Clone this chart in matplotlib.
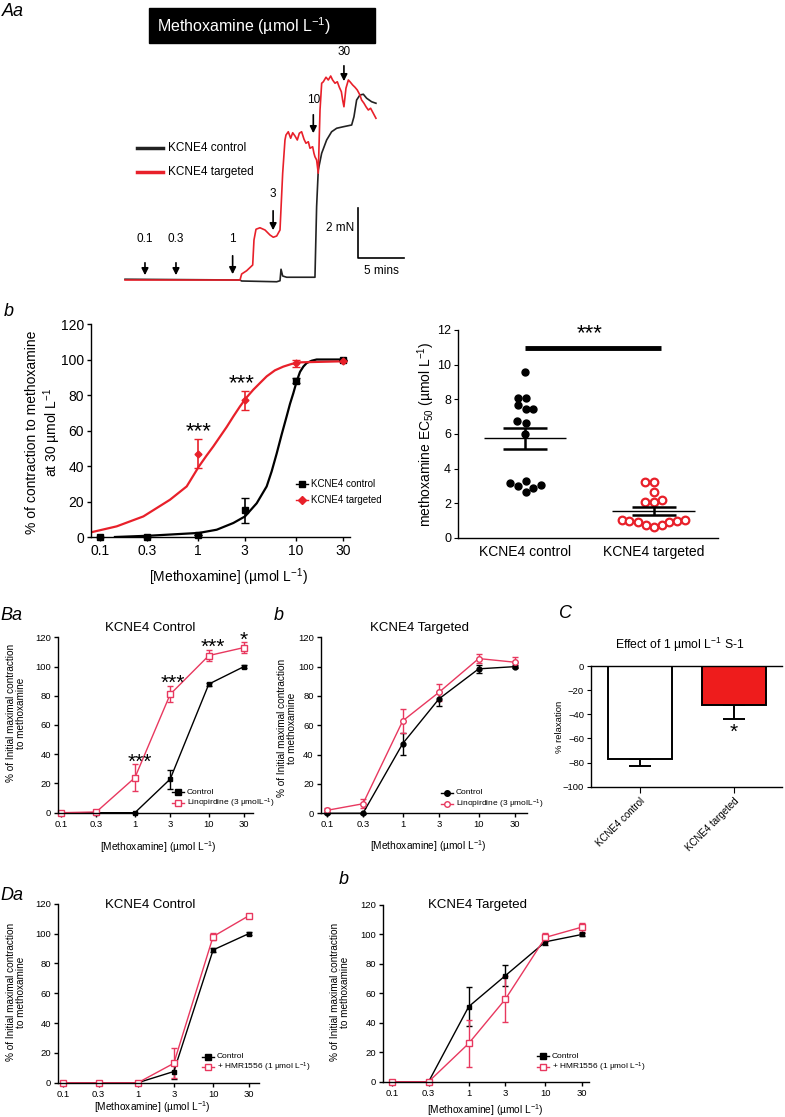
import matplotlib
matplotlib.use("Agg")
import matplotlib.pyplot as plt
from matplotlib.lines import Line2D
from matplotlib.patches import Rectangle

plt.rcParams['font.family'] = ['Liberation Sans', 'DejaVu Sans']
plt.rcParams['mathtext.fontset'] = 'custom'
plt.rcParams['mathtext.rm'] = 'Liberation Sans'
plt.rcParams['mathtext.default'] = 'regular'
plt.rcParams['axes.linewidth'] = 1.0

W, H = 785, 1117
RED = '#e8202a'
PINK = '#e8385f'

# ---------------- data ----------------
# Aa: isometric tension trace (time in min, force in mN)
red_t = [0, 12.5, 12.68, 13.22, 13.88, 14.02, 14.24, 14.67, 15.22, 15.76, 16.12, 16.49, 16.85,
         17.14, 17.39, 17.50, 17.75, 18.01, 18.23, 18.48, 18.73, 18.95, 19.20, 19.46, 19.67,
         19.93, 20.11, 20.40, 20.54, 20.65, 20.83, 21.01, 21.20, 21.38, 21.56, 21.85, 22.10,
         22.36, 22.57, 22.83, 23.08, 23.30, 23.52, 23.66, 23.80, 24.02, 24.28, 24.46, 24.75,
         25.00, 25.25, 25.54, 25.72, 25.98, 26.20, 26.45, 26.70, 26.99, 27.28]
red_f = [0, 0, 0.24, 0.37, 0.6, 1.6, 2.03, 2.09, 2.0, 1.8, 1.71, 1.76, 2.0,
         4.27, 5.6, 5.8, 5.93, 5.67, 5.89, 5.76, 5.6, 5.87, 5.93, 5.63, 5.47,
         5.53, 5.27, 5.33, 5.07, 4.93, 4.8, 4.27, 6.8, 7.87, 7.93, 8.11, 8.0,
         8.16, 8.0, 7.87, 7.93, 7.71, 7.53, 7.2, 6.93, 7.67, 8.0, 7.93, 7.8,
         7.71, 7.6, 7.4, 7.2, 7.07, 6.93, 6.8, 6.87, 6.67, 6.47]
ctl_t = [0, 12.5, 12.68, 16.49, 16.85, 16.96, 17.14, 17.57, 20.65, 20.83, 21.01, 21.38, 21.92,
         22.46, 23.01, 23.73, 24.64, 24.89, 25.18, 25.54, 25.91, 26.27, 26.81, 27.28]
ctl_f = [0.03, 0, -0.04, -0.07, -0.03, 0.43, 0.16, 0.11, 0.11, 2.93, 4.4, 5.07, 5.6,
         5.93, 6.07, 6.13, 6.2, 6.53, 7.2, 7.4, 7.43, 7.27, 7.13, 7.07]
arrow_t = [2.17, 5.54, 11.7, 16.1, 20.47, 23.8]
arrow_lab = ['0.1', '0.3', '1', '3', '10', '30']

# b: concentration-response (% of contraction at 30 umol/L)
conc = [0.1, 0.3, 1, 3, 10, 30]
conc_lab = ['0.1', '0.3', '1', '3', '10', '30']
b_ctl = [0, 0, 1, 15, 88, 100]
b_ctl_err = [0, 0, 0, 7, 1.5, 0]
b_tgt_conc = [1, 3, 10, 30]
b_tgt = [47, 77, 98, 99]
b_tgt_err = [8, 5.5, 2, 0]
fit_ctl_x = [0.142, 0.324, 1.023, 1.552, 2.296, 3.02, 3.972, 5.023, 5.65, 6.353, 7.14, 8.035,
             8.69, 9.397, 10.17, 10.99, 11.89, 12.85, 14.45, 16.26, 30.4]
fit_ctl_y = [0, 0.75, 2.3, 4.1, 7.9, 11.6, 19, 28.5, 37, 47, 57.7, 68,
             75, 81, 87.7, 93, 96, 98, 99.3, 100, 100]
fit_tgt_x = [0.0804, 0.148, 0.277, 0.518, 0.767, 1.023, 1.22, 1.432, 1.963, 2.3, 2.685, 3.14,
             3.673, 4.3, 5.023, 6.1, 7.43, 9.04, 10.99, 30.4]
fit_tgt_y = [2.6, 6, 11.6, 21, 28.5, 39.8, 45.8, 51, 62, 68, 73.6, 78.7,
             83, 86.8, 90.5, 93.9, 96, 97.5, 98.4, 99]

# b (right): EC50 values
ec50_ctl = [9.6, 8.1, 8.1, 7.66, 7.43, 7.45, 6.76, 6.66, 5.99, 3.15, 2.98, 3.26, 2.63, 2.86, 3.05]
ec50_tgt = [3.21, 3.21, 2.63, 2.09, 2.05, 2.19, 1.06, 0.96, 0.9, 0.75, 0.65, 0.75, 0.94, 1.0, 1.02]
ec50_mean = [5.75, 1.56]
ec50_sem = [0.6, 0.23]
groups = ['KCNE4 control', 'KCNE4 targeted']

# Ba / Bb: linopirdine
ba_ctl = [0, 0, 0, 23, 88, 100]
ba_ctl_err = [0, 0, 0, 6.5, 1, 1]
ba_lin = [0, 0.5, 24, 81, 107.5, 113]
ba_lin_err = [0.8, 1.5, 9, 5.5, 3.5, 4]
bb_ctl = [0, 0, 47.5, 78, 98.5, 100]
bb_ctl_err = [0.5, 0.5, 7.5, 4.5, 2.5, 1]
bb_lin = [2, 6.5, 63, 82.5, 105.5, 103]
bb_lin_err = [1.5, 3, 8, 6, 3, 3.5]

# C: S-1 relaxation
relax = [-77, -32]
relax_err = [6, 11.5]

# Da / Db: HMR1556
da_ctl = [0, 0, 0, 7.5, 89, 100]
da_ctl_err = [0, 0, 0, 5, 1.5, 1]
da_hmr = [0, 0, 0, 13, 98, 112]
da_hmr_err = [0, 0, 0, 10, 2.5, 1]
db_ctl = [0, 0, 51, 72, 95, 100]
db_ctl_err = [0, 0, 13, 7, 2, 1]
db_hmr = [0, 0, 26, 56, 98, 105]
db_hmr_err = [0, 0, 16, 15.5, 3, 3]

# scatter jitter
jit_ctl = [0, -0.052, 0.008, -0.057, 0.008, 0.065, -0.06, 0.008, 0, -0.116, -0.057, 0.008, 0.008, 0.065, 0.124]
jit_tgt = [-0.065, 0, 0, -0.065, 0, 0.062, -0.248, -0.189, -0.124, -0.06, 0, 0.062, 0.121, 0.181, 0.243]

# ---------------- figure ----------------
fig = plt.figure(figsize=(W / 100, H / 100), dpi=100)


def fx(x):
    return x / W


def fy(y):
    return 1 - y / H


def px_axes(x0, y0, x1, y1):
    return fig.add_axes([fx(x0), fy(y1), (x1 - x0) / W, (y1 - y0) / H])


def ftext(x, y, s, **kw):
    fig.text(fx(x), fy(y), s, **kw)


def key(x, y, text, color, marker, mfc, size=6):
    fig.add_artist(Line2D([fx(x - 6), fx(x), fx(x + 6)], [fy(y)] * 3, color=color, lw=1,
                          marker=marker, markevery=[1], mfc=mfc, mec=color, ms=4,
                          transform=fig.transFigure))
    ftext(x + 9, y, text, fontsize=size, va='center')


def curve_axes(ax, xlim, fs):
    ax.set_xscale('log')
    ax.set_xlim(*xlim)
    ax.set_ylim(0, 120)
    ax.spines[['top', 'right']].set_visible(False)
    ax.set_xticks(conc)
    ax.set_xticklabels(conc_lab)
    ax.minorticks_off()
    ax.set_yticks(range(0, 121, 20))
    ax.tick_params(labelsize=fs, length=3, width=1, pad=2)


# ---- Aa trace ----
ax = px_axes(100, 40, 420, 290)
ax.set_xlim(-2.72, 32.07)
ax.set_ylim(-0.4, 9.6)
ax.axis('off')
ax.plot(ctl_t, ctl_f, color='#222222', lw=1.2)
ax.plot(red_t, red_f, color=RED, lw=1.2)
arrow_y = [(0.8, 0.08, 1.64), (0.8, 0.08, 1.64), (1.08, 0.12, 1.64),
           (2.88, 1.88, 3.44), (6.72, 5.76, 7.2), (8.68, 7.84, 9.12)]
for t, lab, (tail, tip, ly) in zip(arrow_t, arrow_lab, arrow_y):
    ax.annotate('', xy=(t, tip), xytext=(t, tail),
                arrowprops=dict(arrowstyle='-|>', color='k', lw=1.2, mutation_scale=10))
    ax.text(t, ly, lab, ha='center', va='center', fontsize=8.5)
ax.plot([25.33, 25.33, 30.33], [2.88, 0.88, 0.88], color='k', lw=1.2)
ax.text(24.9, 2.08, '2 mN', ha='right', va='center', fontsize=8.5)
ax.text(27.9, 0.36, '5 mins', ha='center', va='center', fontsize=8.5)
ax.plot([1.3, 4.13], [5.28, 5.28], color='#222222', lw=2.5)
ax.plot([1.3, 4.13], [4.32, 4.32], color=RED, lw=2.5)
ax.text(4.7, 5.28, 'KCNE4 control', va='center', fontsize=8.5)
ax.text(4.7, 4.32, 'KCNE4 targeted', va='center', fontsize=8.5)

fig.add_artist(Rectangle((fx(149), fy(43)), 226 / W, 35 / H, color='black', transform=fig.transFigure))
ftext(157, 26, 'Methoxamine (µmol L$^{-1}$)', color='white', fontsize=11.5, va='center')

# ---- b left: concentration response ----
ax = px_axes(91, 324, 350, 537)
curve_axes(ax, (0.0809, 35.6), 10)
ax.plot(fit_ctl_x, fit_ctl_y, color='k', lw=1.6)
ax.plot(fit_tgt_x, fit_tgt_y, color=RED, lw=1.6)
ax.errorbar(conc, b_ctl, yerr=b_ctl_err, fmt='s', color='k', ms=4.5, capsize=3, elinewidth=1.2, clip_on=False)
ax.errorbar(b_tgt_conc, b_tgt, yerr=b_tgt_err, fmt='D', color=RED, ms=3.5, capsize=3, elinewidth=1.2, clip_on=False)
ftext(44, 432, '% of contraction to methoxamine\nat 30 µmol L$^{-1}$', rotation=90, ha='center', va='center',
      fontsize=10, linespacing=1.1)
ftext(228, 577, '[Methoxamine] (µmol L$^{-1}$)', ha='center', va='center', fontsize=10)
ftext(199, 432, '***', ha='center', va='center', fontsize=16)
ftext(242, 384, '***', ha='center', va='center', fontsize=16)
key(302, 484, 'KCNE4 control', 'k', 's', 'k', 7)
key(302, 500, 'KCNE4 targeted', RED, 'D', RED, 7)

# ---- b right: EC50 scatter ----
ax = px_axes(458, 330, 718, 538)
ax.set_xlim(0.48, 2.5)
ax.set_ylim(0, 12)
ax.spines[['top', 'right']].set_visible(False)
ax.set_xticks([1, 2])
ax.set_xticklabels(groups)
ax.set_yticks(range(0, 13, 2))
ax.tick_params(labelsize=9, length=3, pad=2)
ax.tick_params(axis='x', length=0, pad=5, labelsize=10)
ax.plot([1 + j for j in jit_ctl], ec50_ctl, 'o', color='k', ms=5, clip_on=False)
ax.plot([2 + j for j in jit_tgt], ec50_tgt, 'o', mfc='white', mec=RED, mew=1.6, ms=5.5, clip_on=False)
for x, m, s in zip([1, 2], ec50_mean, ec50_sem):
    ax.hlines(m, x - 0.32, x + 0.32, color='k', lw=1)
    ax.hlines([m - s, m + s], x - 0.17, x + 0.17, color='k', lw=1.8)
    ax.vlines(x, m - s, m + s, color='k', lw=1.8)
ax.plot([1, 2.06], [10.95, 10.95], color='k', lw=3.5, solid_capstyle='butt')
ax.text(1.5, 11.2, '***', ha='center', va='bottom', fontsize=16)
ftext(426, 434, 'methoxamine EC$_{50}$ (µmol L$^{-1}$)', rotation=90, ha='center', va='center', fontsize=10)

# ---- Ba ----
ax = px_axes(58, 637.3, 253, 812.7)
curve_axes(ax, (0.091, 39.6), 6.8)
ax.errorbar(conc, ba_ctl, yerr=ba_ctl_err, fmt='-s', color='k', lw=1, ms=3.5, capsize=2.5, clip_on=False)
ax.errorbar(conc, ba_lin, yerr=ba_lin_err, fmt='-s', color=PINK, mfc='white', mew=1, lw=1, ms=4,
            capsize=2.5, clip_on=False)
ftext(150, 628, 'KCNE4 Control', ha='center', va='center', fontsize=9.5)
ftext(16, 713, '% of Initial maximal contraction\nto methoxamine', rotation=90, ha='center', va='center',
      fontsize=7.2, linespacing=1.1)
ftext(158, 847, '[Methoxamine] (µmol L$^{-1}$)', ha='center', va='center', fontsize=7.3)
for x, y, s in [(140, 762, '***'), (173, 683, '***'), (213, 647, '***'), (244, 640, '*')]:
    ftext(x, y, s, ha='center', va='center', fontsize=15)
key(178, 792, 'Control', 'k', 's', 'k')
key(178, 803, 'Linopirdine (3 µmolL$^{-1}$)', PINK, 's', 'white')

# ---- Bb ----
ax = px_axes(320.7, 637.3, 526.7, 813.3)
curve_axes(ax, (0.0834, 42.8), 6.8)
ax.errorbar(conc, bb_ctl, yerr=bb_ctl_err, fmt='-o', color='k', lw=1, ms=3.5, capsize=2.5, clip_on=False)
ax.errorbar(conc, bb_lin, yerr=bb_lin_err, fmt='-o', color=PINK, mfc='white', mew=1, lw=1, ms=4,
            capsize=2.5, clip_on=False)
ftext(420, 628, 'KCNE4 Targeted', ha='center', va='center', fontsize=9.5)
ftext(287, 728, '% of Initial maximal contraction\nto methoxamine', rotation=90, ha='center', va='center',
      fontsize=7.2, linespacing=1.1)
ftext(428, 846, '[Methoxamine] (µmol L$^{-1}$)', ha='center', va='center', fontsize=7.3)
key(447, 793, 'Control', 'k', 'o', 'k')
key(447, 804, 'Linopirdine (3 µmolL$^{-1}$)', PINK, 'o', 'white')

# ---- C ----
ax = px_axes(591, 666, 781.7, 786.7)
ax.set_xlim(-0.52, 1.51)
ax.set_ylim(-100, 0)
ax.spines['right'].set_visible(False)
ax.bar([0, 1], relax, width=0.68, color=['white', '#ee1c1c'], edgecolor='k', lw=1.4, zorder=2)
ax.errorbar([0, 1], relax, yerr=[relax_err, [0, 0]], fmt='none', ecolor='k', elinewidth=1.4,
            capsize=8, capthick=1.4, zorder=1)
ax.set_xticks([0, 1])
ax.set_xticklabels(['KCNE4 control', 'KCNE4 targeted'], rotation=45, ha='right', rotation_mode='anchor')
ax.set_yticks(range(-100, 1, 20))
ax.tick_params(labelsize=6.8, length=3, pad=2)
ax.tick_params(axis='x', length=4, labelsize=7, pad=3)
ax.text(1, -55, '*', ha='center', va='center', fontsize=15)
ftext(680, 645, 'Effect of 1 µmol L$^{-1}$ S-1', ha='center', va='center', fontsize=8.8)
ftext(560, 727, '% relaxation', rotation=90, ha='center', va='center', fontsize=6.8)

# ---- Da ----
ax = px_axes(58, 903.7, 259, 1082.7)
curve_axes(ax, (0.0866, 40.7), 6.8)
ax.errorbar(conc, da_ctl, yerr=da_ctl_err, fmt='-s', color='k', lw=1, ms=3.5, capsize=2.5, clip_on=False)
ax.errorbar(conc, da_hmr, yerr=da_hmr_err, fmt='-s', color=PINK, mfc='white', mew=1, lw=1, ms=4,
            capsize=2.5, clip_on=False)
ftext(150, 905, 'KCNE4 Control', ha='center', va='center', fontsize=9.5)
ftext(16, 992, '% of Initial maximal contraction\nto methoxamine', rotation=90, ha='center', va='center',
      fontsize=7.2, linespacing=1.1)
ftext(152, 1107, '[Methoxamine] (µmol L$^{-1}$)', ha='center', va='center', fontsize=7.3)
key(208, 1057, 'Control', 'k', 's', 'k')
key(208, 1067, '+ HMR1556 (1 µmol L$^{-1}$)', PINK, 's', 'white')

# ---- Db ----
ax = px_axes(383, 905, 589, 1081.7)
curve_axes(ax, (0.0763, 37.0), 6.8)
ax.errorbar(conc, db_ctl, yerr=db_ctl_err, fmt='-s', color='k', lw=1, ms=3.5, capsize=2.5, clip_on=False)
ax.errorbar(conc, db_hmr, yerr=db_hmr_err, fmt='-s', color=PINK, mfc='white', mew=1, lw=1, ms=4,
            capsize=2.5, clip_on=False)
ftext(477, 905, 'KCNE4 Targeted', ha='center', va='center', fontsize=9.5)
ftext(340, 992, '% of Initial maximal contraction\nto methoxamine', rotation=90, ha='center', va='center',
      fontsize=7.2, linespacing=1.1)
ftext(485, 1110, '[Methoxamine] (µmol L$^{-1}$)', ha='center', va='center', fontsize=7.3)
key(543, 1056, 'Control', 'k', 's', 'k')
key(543, 1067, '+ HMR1556 (1 µmol L$^{-1}$)', PINK, 's', 'white')

# ---- panel letters ----
for x, y, s in [(2, 12, 'Aa'), (4, 311, 'b'), (0, 616, 'Ba'), (274, 616, 'b'), (559, 613, 'C'),
                (0, 896, 'Da'), (339, 879, 'b')]:
    ftext(x, y, s, fontsize=13, style='italic', va='center')

fig.savefig('out.png', dpi=100)
